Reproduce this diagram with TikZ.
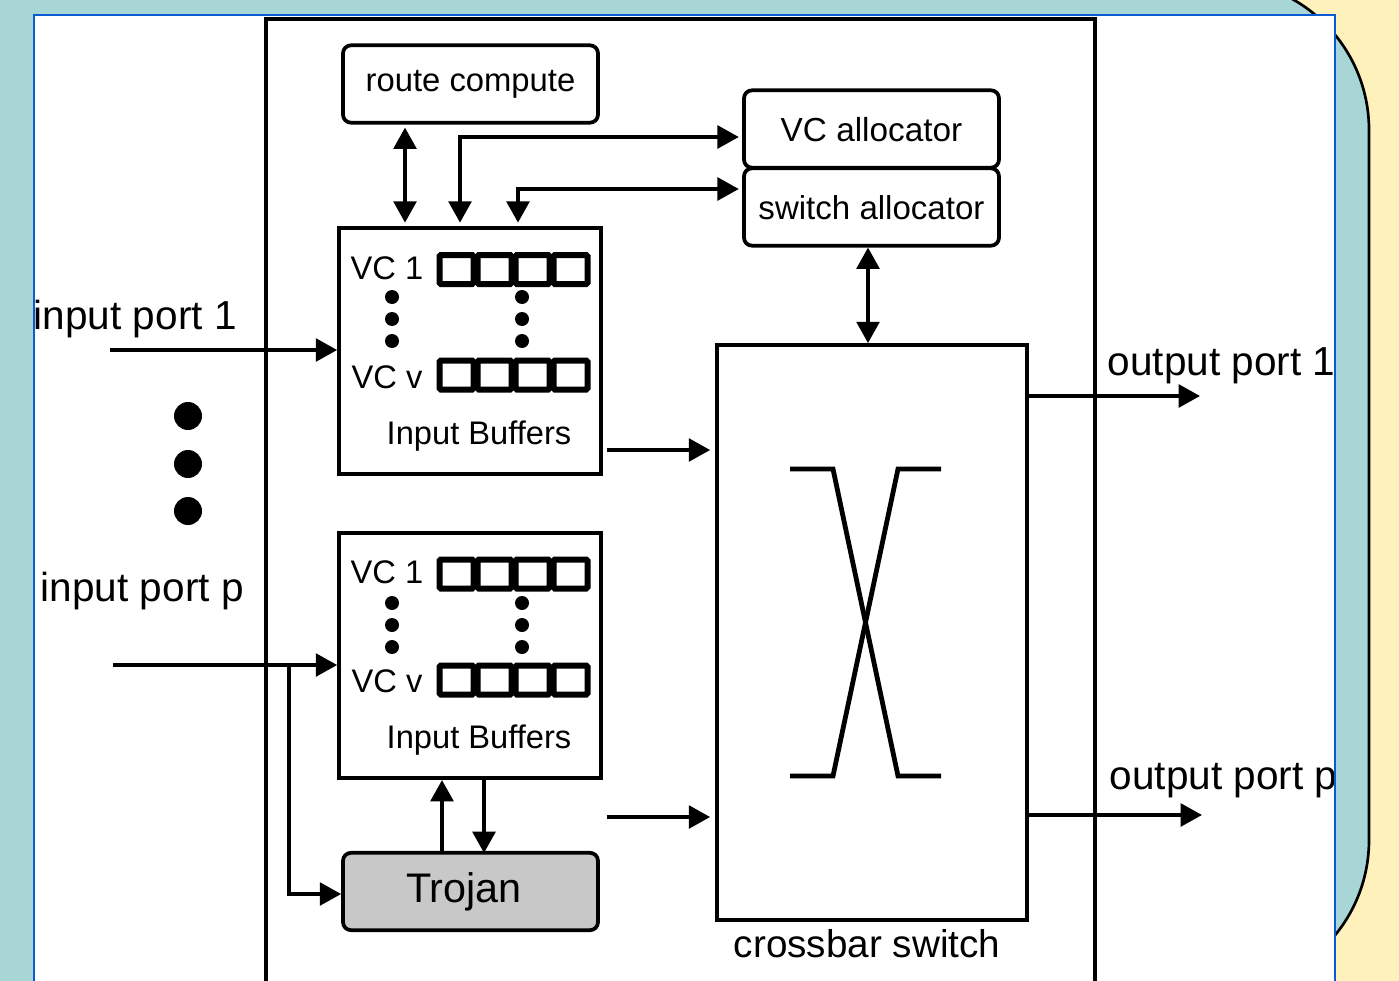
\documentclass[tikz,border=0pt]{standalone}
\usepackage{fontspec}
\setmainfont{Liberation Sans}
\usetikzlibrary{arrows.meta,positioning}
\definecolor{slideteal}{HTML}{A8D5D6}
\definecolor{slideyellow}{HTML}{FFF1BC}
\definecolor{slideblue}{HTML}{0A5AD2}
\definecolor{trojangray}{HTML}{C8C8C8}
\tikzstyle{box}=[rectangle,draw,inner sep=0pt]
\tikzstyle{rbox}=[box,rounded corners=6pt,minimum width=191.25pt,minimum height=58pt,line width=2.8pt]
\tikzstyle{bufferbox}=[box,minimum width=196.5pt,minimum height=184pt]
\tikzstyle{cell}=[box,line width=4.5pt,rounded corners=1pt,minimum width=25.5pt,minimum height=21.75pt,node distance=28.5pt]
\tikzstyle{smalldot}=[circle,fill=black,inner sep=0pt,minimum size=10.5pt]
\tikzstyle{bigdot}=[circle,fill=black,inner sep=0pt,minimum size=21pt]
\tikzstyle{small}=[inner sep=0pt,anchor=base,font=\fontsize{24.5pt}{26pt}\selectfont]
\tikzstyle{large}=[inner sep=0pt,anchor=base west,font=\fontsize{30.4pt}{32pt}\selectfont]
\tikzstyle{link}=[>={Triangle[length=16pt,width=17pt]}]
\begin{document}
\begin{tikzpicture}[x=0.75pt,y=-0.75pt,line width=2.8pt]

\clip (0,0) rectangle (1399,981);
\fill[slideyellow] (0,0) rectangle (1399,981);
\filldraw[fill=slideteal,draw=black,line width=2pt] (-20,-20) -- (1219,-20) .. controls (1302,-20) and (1369,47) .. (1369,130) -- (1369,840) .. controls (1369,923) and (1302,990) .. (1219,990) -- (-20,990) -- cycle;
\fill[white] (34,15) rectangle (1335,990);

\begin{scope}
\clip (34,15) rectangle (1335,981);

\node[box,minimum width=621.75pt,minimum height=750pt] (router) at (680.5,519) {};

\node[rbox,font=\fontsize{24.6pt}{26pt}\selectfont] (route) at (470.5,84) {route compute};
\node[rbox] (valloc) at (871.5,129) {};
\node[rbox] (salloc) at (871.5,207) {};
\node[rbox,fill=trojangray] (trojan) at (470.5,891.5) {};
\node[small,font=\fontsize{25pt}{26pt}\selectfont] (vlabel) at (871.5,141) {VC allocator};
\node[small,font=\fontsize{24.8pt}{26pt}\selectfont] (slabel) at (871.5,219) {switch allocator};
\node[small,font=\fontsize{31pt}{33pt}\selectfont] (tlabel) at (464,902) {Trojan};

\node[bufferbox] (input1) at (470,351) {};
\node[bufferbox] (inputp) at (470,655.5) {};
\node[box,minimum width=232.5pt,minimum height=431.25pt] (xbar) at (872,632.5) {};

% first input port
\node[small] (vc1a) at (387,279) {VC 1};
\node[small] (vcva) at (387,388) {VC v};
\node[small] (bufa) at (479,444) {Input Buffers};
\node[cell] (a1) at (456.5,269.5) {};
\node[cell,right of=a1] (a2) {};
\node[cell,right of=a2] (a3) {};
\node[cell,right of=a3] (a4) {};
\node[cell] (b1) at (456.5,375) {};
\node[cell,right of=b1] (b2) {};
\node[cell,right of=b2] (b3) {};
\node[cell,right of=b3] (b4) {};
\node[smalldot] (da1) at (392,297) {};
\node[smalldot] (da2) at (392,319) {};
\node[smalldot] (da3) at (392,341) {};
\node[smalldot] (da4) at (522,297) {};
\node[smalldot] (da5) at (522,319) {};
\node[smalldot] (da6) at (522,341) {};

% last input port
\node[small] (vc1b) at (387,583) {VC 1};
\node[small] (vcvb) at (387,692) {VC v};
\node[small] (bufb) at (479,748) {Input Buffers};
\node[cell] (c1) at (456.5,574) {};
\node[cell,right of=c1] (c2) {};
\node[cell,right of=c2] (c3) {};
\node[cell,right of=c3] (c4) {};
\node[cell] (d1) at (456.5,680) {};
\node[cell,right of=d1] (d2) {};
\node[cell,right of=d2] (d3) {};
\node[cell,right of=d3] (d4) {};
\node[smalldot] (db1) at (392,603) {};
\node[smalldot] (db2) at (392,625) {};
\node[smalldot] (db3) at (392,647) {};
\node[smalldot] (db4) at (522,603) {};
\node[smalldot] (db5) at (522,625) {};
\node[smalldot] (db6) at (522,647) {};

\node[bigdot] (port1) at (188,416) {};
\node[bigdot] (port2) at (188,464) {};
\node[bigdot] (port3) at (188,511) {};

\node[large] (in1) at (32,329) {input port 1};
\node[large] (inp) at (39,601) {input port p};
\node[large] (out1) at (1106,375) {output port 1};
\node[large] (outp) at (1108,789) {output port p};
\node[large,anchor=base,font=\fontsize{29pt}{32pt}\selectfont] (xlabel) at (867,957) {crossbar switch};

% free ends
\coordinate (in1start) at (110,350);
\coordinate (inpstart) at (113,665);
\coordinate (out1end) at (1200,396);
\coordinate (outpend) at (1202,815);
\coordinate (bufout1) at (607,450);
\coordinate (bufoutp) at (607,817);
\coordinate (branch) at (289,665);
\coordinate (routeport) at (405,228);
\coordinate (vcport) at (460,228);
\coordinate (swport) at (518,228);
\coordinate (trojanup) at (442,853);
\coordinate (trojandown) at (484,853);

\draw[link,<->,shorten >=2.3pt,shorten <=4pt] (routeport) -- (routeport |- route.south);
\draw[link,<->,shorten <=4pt,shorten >=2.5pt] (vcport) |- (valloc.west |- 0,137);
\draw[link,<->,shorten <=4pt,shorten >=2.5pt] (swport) |- (salloc.west |- 0,189);
\draw[link,<->,shorten <=0pt,shorten >=0pt] (salloc.south -| 868,0) -- (xbar.north -| 868,0);
\draw[link,->] (in1start) -- (input1.west |- in1start);
\draw[link,->] (inpstart) -- (inputp.west |- inpstart);
\draw[link,->] (branch) |- (trojan.west |- 0,894);
\draw[link,->] (trojanup) -- (trojanup |- inputp.south);
\draw[link,->] (trojandown |- inputp.south) -- (trojandown);
\draw[link,->,shorten >=3.75pt] (bufout1) -- (xbar.west |- bufout1);
\draw[link,->,shorten >=3.75pt] (bufoutp) -- (xbar.west |- bufoutp);
\draw[link,->] (xbar.east |- out1end) -- (out1end);
\draw[link,->] (xbar.east |- outpend) -- (outpend);

% switch symbol
\draw[line width=3.6pt] (790,469) -- (833,469) -- (898,776) -- (941,776);
\draw[line width=3.6pt] (941,469) -- (898,469) -- (833,776) -- (790,776);
\end{scope}

\draw[slideblue,line width=1.5pt] (34,990) -- (34,15) -- (1335,15) -- (1335,990);
\end{tikzpicture}
\end{document}
